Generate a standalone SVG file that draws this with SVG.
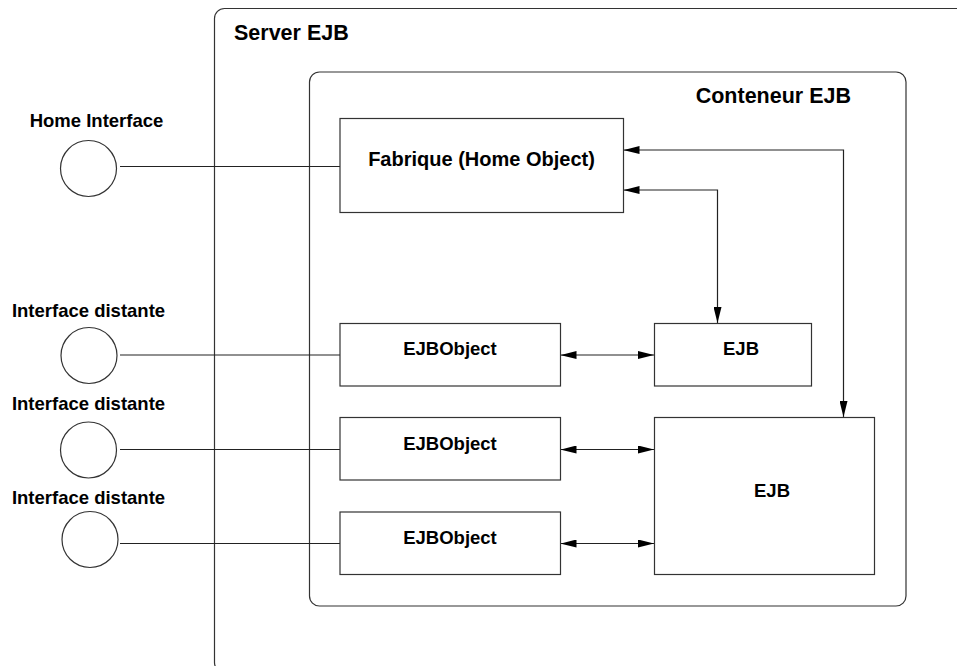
<svg xmlns="http://www.w3.org/2000/svg" width="957" height="666" viewBox="0 0 957 666">
<style>
  .frame{fill:none;stroke:#333;stroke-width:1.2}
  .box{fill:#fff;stroke:#333;stroke-width:1.2}
  .ln{fill:none;stroke:#222;stroke-width:1.2}
  .t{font-family:"Liberation Sans",Arial,sans-serif;font-weight:bold;fill:#000}
  .lbl{font-size:18.5px;text-anchor:middle}
  .big{font-size:21.5px}
</style>
<defs>
  <marker id="ah" viewBox="0 0 16 8" refX="16" refY="4" markerWidth="16" markerHeight="8" markerUnits="userSpaceOnUse" orient="auto-start-reverse">
    <path d="M0,0 L16,4 L0,8 Z" fill="#000"/>
  </marker>
</defs>
<rect width="957" height="666" fill="#fff"/>

<g id="server">
  <rect class="frame" x="214.5" y="8.5" width="800" height="664" rx="10"/>
  <text class="t big" x="234" y="40">Server EJB</text>
</g>
<g id="conteneur">
  <rect class="frame" x="309.5" y="72" width="596.5" height="534" rx="10"/>
  <text class="t big" x="851" y="102.5" text-anchor="end">Conteneur EJB</text>
</g>

<g id="connectors">
  <line class="ln" x1="120" y1="166.5" x2="340" y2="166.5"/>
  <line class="ln" x1="120" y1="355" x2="340" y2="355"/>
  <line class="ln" x1="120" y1="449.5" x2="340" y2="449.5"/>
  <line class="ln" x1="120" y1="543.5" x2="340" y2="543.5"/>
  <path class="ln" d="M623.5,190 H717.5 V323" marker-start="url(#ah)" marker-end="url(#ah)"/>
  <path class="ln" d="M623.5,150 H843.5 V417" marker-start="url(#ah)" marker-end="url(#ah)"/>
  <line class="ln" x1="560.5" y1="355" x2="654" y2="355" marker-start="url(#ah)" marker-end="url(#ah)"/>
  <line class="ln" x1="560.5" y1="449.5" x2="654" y2="449.5" marker-start="url(#ah)" marker-end="url(#ah)"/>
  <line class="ln" x1="560.5" y1="543.5" x2="654" y2="543.5" marker-start="url(#ah)" marker-end="url(#ah)"/>
</g>

<g id="home-interface">
  <circle class="box" cx="88.5" cy="168.5" r="28"/>
  <text class="t lbl" x="96.5" y="127">Home Interface</text>
</g>
<g id="interface-distante-1">
  <circle class="box" cx="89" cy="355.5" r="28"/>
  <text class="t lbl" x="88.5" y="316.5">Interface distante</text>
</g>
<g id="interface-distante-2">
  <circle class="box" cx="88.5" cy="450" r="28"/>
  <text class="t lbl" x="88.5" y="410">Interface distante</text>
</g>
<g id="interface-distante-3">
  <circle class="box" cx="90" cy="539.5" r="28"/>
  <text class="t lbl" x="88.5" y="504">Interface distante</text>
</g>

<g id="fabrique">
  <rect class="box" x="340" y="118.5" width="283.5" height="94"/>
  <text class="t" x="481.5" y="166" font-size="20" text-anchor="middle">Fabrique (Home Object)</text>
</g>
<g id="ejbobject-1">
  <rect class="box" x="340" y="323.5" width="220.5" height="62.5"/>
  <text class="t lbl" x="450" y="355">EJBObject</text>
</g>
<g id="ejbobject-2">
  <rect class="box" x="340" y="417.5" width="220.5" height="62.5"/>
  <text class="t lbl" x="450" y="449.5">EJBObject</text>
</g>
<g id="ejbobject-3">
  <rect class="box" x="340" y="512" width="220.5" height="62.5"/>
  <text class="t lbl" x="450" y="543.5">EJBObject</text>
</g>
<g id="ejb-1">
  <rect class="box" x="654.5" y="323.5" width="157" height="62.5"/>
  <text class="t lbl" x="741" y="355">EJB</text>
</g>
<g id="ejb-2">
  <rect class="box" x="654.5" y="417.5" width="220" height="157"/>
  <text class="t lbl" x="772" y="497">EJB</text>
</g>
</svg>
